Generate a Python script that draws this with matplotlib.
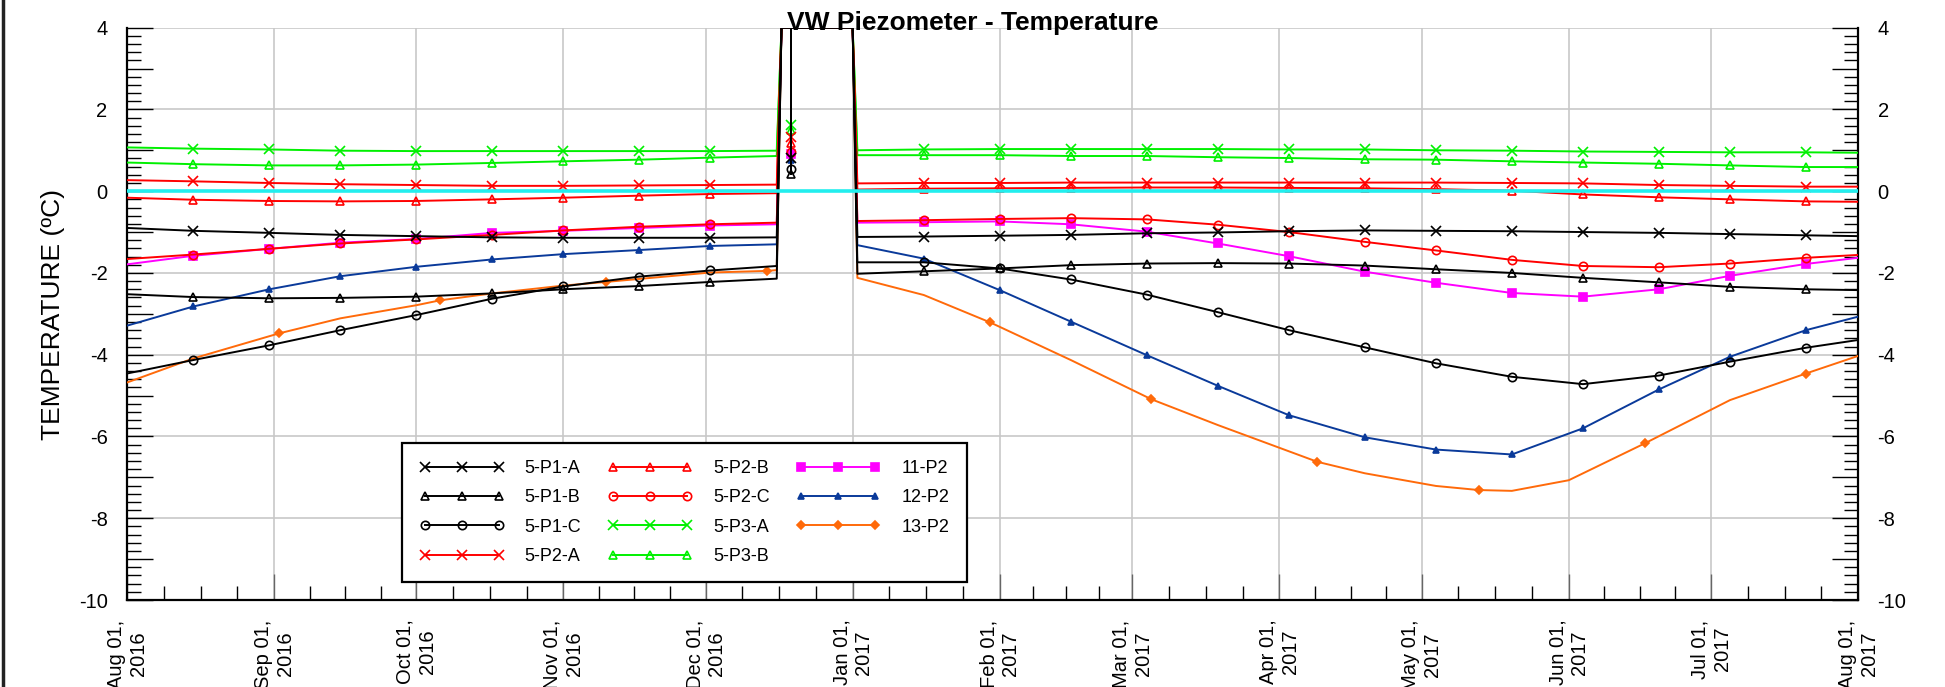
import pandas as pd
import matplotlib
matplotlib.use('Agg')
import matplotlib.pyplot as plt
import matplotlib.dates as mdates
from matplotlib.ticker import FixedLocator, MultipleLocator, FuncFormatter
from matplotlib.lines import Line2D

plt.rcParams['font.family'] = ['Liberation Sans', 'DejaVu Sans']
plt.rcParams['axes.unicode_minus'] = False

T = 4.0  # readings above the chart range are held at the top edge

# Reading dates shared by most sensors (the spike in late Dec is a bad reading)
dates = pd.to_datetime([
    '2016-08-01', '2016-08-15', '2016-08-31', '2016-09-15', '2016-10-01',
    '2016-10-17', '2016-11-01', '2016-11-17', '2016-12-02', '2016-12-16',
    '2016-12-17', '2016-12-19', '2016-12-19', '2016-12-19', '2017-01-01',
    '2017-01-02', '2017-01-16', '2017-02-01', '2017-02-16', '2017-03-04',
    '2017-03-19', '2017-04-03', '2017-04-19', '2017-05-04', '2017-05-20',
    '2017-06-04', '2017-06-20', '2017-07-05', '2017-07-21', '2017-08-01'])

p1a = [-0.90, -0.97, -1.02, -1.07, -1.10, -1.13, -1.14, -1.14, -1.14, -1.13,
       T, T, 0.82, T, T,
       -1.12, -1.11, -1.09, -1.07, -1.03, -1.01, -0.98, -0.96, -0.97, -0.98,
       -1.00, -1.02, -1.05, -1.08, -1.10]
p1b = [-2.52, -2.59, -2.62, -2.61, -2.58, -2.50, -2.40, -2.32, -2.22, -2.14,
       T, T, 0.42, T, T,
       -2.02, -1.96, -1.89, -1.81, -1.77, -1.76, -1.77, -1.82, -1.91, -2.00,
       -2.12, -2.23, -2.34, -2.40, -2.42]
p1c = [-4.46, -4.13, -3.77, -3.40, -3.03, -2.63, -2.33, -2.09, -1.94, -1.83,
       T, T, 0.55, T, T,
       -1.74, -1.74, -1.89, -2.16, -2.53, -2.96, -3.40, -3.82, -4.21, -4.54,
       -4.72, -4.51, -4.17, -3.83, -3.64]
p2a = [0.27, 0.24, 0.20, 0.17, 0.15, 0.13, 0.13, 0.14, 0.15, 0.16,
       T, T, 1.33, T, T,
       0.19, 0.20, 0.20, 0.21, 0.21, 0.21, 0.21, 0.21, 0.21, 0.20,
       0.19, 0.15, 0.13, 0.11, 0.11]
p2b = [-0.16, -0.21, -0.24, -0.25, -0.24, -0.20, -0.16, -0.11, -0.07, -0.05,
       T, T, 1.18, T, T,
       0.04, 0.06, 0.07, 0.08, 0.09, 0.09, 0.08, 0.07, 0.05, 0.01,
       -0.08, -0.15, -0.20, -0.25, -0.26]
p2c = [-1.66, -1.55, -1.41, -1.28, -1.18, -1.07, -0.96, -0.87, -0.81, -0.77,
       T, T, 0.95, T, T,
       -0.73, -0.71, -0.68, -0.66, -0.69, -0.82, -1.00, -1.24, -1.45, -1.68,
       -1.83, -1.86, -1.77, -1.63, -1.56]
p3a = [1.07, 1.04, 1.02, 0.99, 0.98, 0.98, 0.98, 0.98, 0.98, 0.99,
       T, T, 1.61, T, T,
       1.00, 1.02, 1.03, 1.03, 1.03, 1.03, 1.02, 1.02, 1.00, 0.99,
       0.97, 0.96, 0.95, 0.95, 0.94]
p3b = [0.70, 0.66, 0.63, 0.63, 0.65, 0.69, 0.73, 0.77, 0.82, 0.86,
       T, T, 1.49, T, T,
       0.88, 0.88, 0.88, 0.86, 0.86, 0.83, 0.81, 0.78, 0.77, 0.73,
       0.70, 0.67, 0.63, 0.59, 0.59]
p11 = [-1.79, -1.58, -1.41, -1.26, -1.17, -1.02, -0.97, -0.90, -0.84, -0.81,
       T, T, 0.92, T, T,
       -0.77, -0.76, -0.74, -0.81, -0.99, -1.28, -1.59, -1.97, -2.24, -2.49,
       -2.58, -2.40, -2.07, -1.78, -1.63]
p12 = [-3.29, -2.82, -2.40, -2.08, -1.85, -1.67, -1.54, -1.44, -1.34, -1.30,
       T, T, 0.77, T, T,
       -1.32, -1.65, -2.42, -3.19, -4.01, -4.76, -5.48, -6.02, -6.32, -6.44,
       -5.80, -4.85, -4.05, -3.40, -3.07]

# 13-P2 was read on its own schedule
dates_13 = pd.to_datetime([
    '2016-08-01', '2016-08-15', '2016-09-02', '2016-09-15', '2016-10-01',
    '2016-10-06', '2016-10-17', '2016-11-01', '2016-11-10', '2016-12-02',
    '2016-12-14', '2016-12-16', '2016-12-17', '2017-01-01', '2017-01-02',
    '2017-01-16', '2017-01-30', '2017-02-16', '2017-03-05', '2017-03-19',
    '2017-04-09', '2017-04-19', '2017-05-04', '2017-05-13', '2017-05-20',
    '2017-06-01', '2017-06-17', '2017-07-05', '2017-07-21', '2017-08-01'])
p13 = [-4.68, -4.09, -3.48, -3.11, -2.79, -2.67, -2.50, -2.31, -2.22, -1.99,
       -1.95, -1.93, T, T, -2.12, -2.54, -3.21, -4.13, -5.09, -5.72,
       -6.62, -6.90, -7.21, -7.31, -7.33, -7.07, -6.17, -5.11, -4.46, -4.03]

# which readings get a marker
mk_common = list(range(1, 9)) + [12] + list(range(16, 29))
mk_13 = [2, 5, 8, 10, 16, 18, 20, 23, 26, 28]

series = [
    ('5-P1-A', dates, p1a, 'black', 'x', 'none', 6.5, mk_common),
    ('5-P1-B', dates, p1b, 'black', '^', 'none', 5.5, mk_common),
    ('5-P1-C', dates, p1c, 'black', 'o', 'none', 6, mk_common),
    ('5-P2-A', dates, p2a, '#ff0000', 'x', 'none', 6.5, mk_common),
    ('5-P2-B', dates, p2b, '#ff0000', '^', 'none', 5.5, mk_common),
    ('5-P2-C', dates, p2c, '#ff0000', 'o', 'none', 6, mk_common),
    ('5-P3-A', dates, p3a, '#00f000', 'x', 'none', 6.5, mk_common),
    ('5-P3-B', dates, p3b, '#00f000', '^', 'none', 5.5, mk_common),
    ('11-P2', dates, p11, '#ff00ff', 's', '#ff00ff', 5.5, mk_common),
    ('12-P2', dates, p12, '#0a3a9a', '^', '#0a3a9a', 5, mk_common),
    ('13-P2', dates_13, p13, '#ff6a0a', 'D', '#ff6a0a', 4.5, mk_13),
]

fig = plt.figure(figsize=(19.45, 6.87), dpi=100)
ax = fig.add_axes([0.0653, 0.1266, 0.8900, 0.8332])

handles = {}
for name, d, v, col, mk, mfc, ms, me in reversed(series):
    ln, = ax.plot(d, v, color=col, lw=1.4, marker=mk, mfc=mfc, mec=col,
                  mew=1.2, ms=ms, markevery=me, zorder=3)
    handles[name] = ln

ax.axhline(0, color='#22eeee', lw=2.6, zorder=4)

# axes ranges and ticks
ax.set_xlim(pd.Timestamp('2016-08-01'), pd.Timestamp('2017-08-01'))
ax.set_ylim(-10, 4)

months = pd.date_range('2016-08-01', '2017-08-01', freq='MS')
ax.xaxis.set_major_locator(FixedLocator(mdates.date2num(months)))
ax.xaxis.set_major_formatter(mdates.DateFormatter('%b %d,\n%Y'))
minor_x = []
for a, b in zip(months[:-1], months[1:]):
    for k in (1, 2, 3):
        minor_x.append(mdates.date2num(a + (b - a) * k / 4))
ax.xaxis.set_minor_locator(FixedLocator(minor_x))

ax.yaxis.set_major_locator(MultipleLocator(1))
ax.yaxis.set_minor_locator(MultipleLocator(0.2))
ax.yaxis.set_major_formatter(FuncFormatter(
    lambda y, pos: '%d' % y if int(round(y)) % 2 == 0 else ''))

ax.tick_params(axis='x', which='major', direction='in', length=19, width=1,
               pad=14, labelsize=14.5, labelrotation=90, color='#666666')
ax.tick_params(axis='x', which='minor', direction='in', length=10, width=1)
ax.tick_params(axis='y', which='major', direction='in', length=19, width=1,
               pad=14, labelsize=14.5, left=True, right=True,
               labelleft=True, labelright=True)
ax.tick_params(axis='y', which='minor', direction='in', length=10, width=1,
               left=True, right=True)
for lab in ax.get_xticklabels():
    lab.set_ha('center')
    lab.set_multialignment('center')

# grid
ax.grid(axis='x', which='major', color='#c8c8c8', lw=1.2, zorder=0)
for g in range(-10, 5, 2):
    ax.axhline(g, color='#c8c8c8', lw=1.2, zorder=0)

for s in ('left', 'bottom', 'right'):
    ax.spines[s].set_linewidth(1.6)
ax.spines['top'].set_visible(False)

fig.text(973 / 1945, 1 - 30 / 687, 'VW Piezometer - Temperature',
         ha='center', va='baseline', fontsize=19, fontweight='bold')
fig.text(53 / 1945, 1 - 314 / 687, 'TEMPERATURE (ºC)', rotation=90,
         ha='center', va='center', fontsize=19)

names = [s[0] for s in series]
leg = ax.legend([handles[n] for n in names], names, ncol=3, loc='upper left',
                bbox_to_anchor=(402 / 1945, 1 - 443 / 687),
                bbox_transform=fig.transFigure, borderaxespad=0,
                fontsize=13, numpoints=3,
                handlelength=4.7, handletextpad=1.15, columnspacing=1.45,
                labelspacing=0.68, borderpad=0.95, fancybox=False,
                framealpha=1, edgecolor='black')
leg.get_frame().set_linewidth(1.6)
leg.set_zorder(10)

# frame edge on the left side of the picture
fig.add_artist(Line2D([0.0015, 0.0015], [0, 1], transform=fig.transFigure,
                      color='#222222', lw=2.5))

fig.savefig('out.png', dpi=100)
